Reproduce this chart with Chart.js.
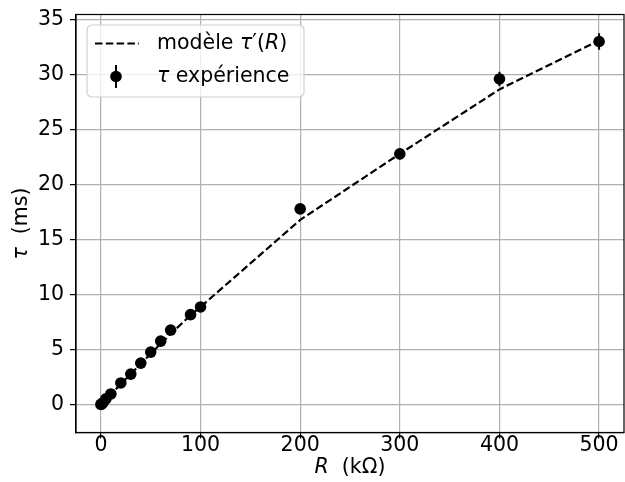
<!DOCTYPE html>
<html>
<head>
<meta charset="utf-8">
<script src="https://cdn.jsdelivr.net/npm/chart.js@4.4.1/dist/chart.umd.min.js"></script>
<style>
  html, body { margin: 0; padding: 0; background: #fff; }
  #wrap { width: 625px; height: 482px; position: relative; }
</style>
</head>
<body>
<div id="wrap"><canvas id="c" width="625" height="482"></canvas></div>
<script>
// ---- data ----
const R = [0, 1, 2, 5, 10, 20, 30, 40, 50, 60, 70, 90, 100, 200, 300, 400, 500];
const tauExp = [0.05, 0.1, 0.2, 0.55, 1.0, 2.0, 2.8, 3.8, 4.8, 5.8, 6.8, 8.2, 8.9, 17.8, 22.8, 29.6, 33.0];
const tauErr = [0.05, 0.05, 0.05, 0.05, 0.1, 0.1, 0.1, 0.15, 0.15, 0.15, 0.2, 0.2, 0.2, 0.4, 0.5, 0.65, 0.75];
const modelR = [0, 10, 20, 30, 40, 50, 60, 70, 90, 100, 200, 300, 400, 500];
const tauModel = [0, 0.95, 1.9, 2.8, 3.75, 4.65, 5.55, 6.45, 8.15, 8.9, 16.8, 22.8, 28.65, 33.1];
const xTicks = [0, 100, 200, 300, 400, 500];
const yTicks = [0, 5, 10, 15, 20, 25, 30, 35];
const labelModel = [['modèle ', false], ['τ', true], ['′(', false], ['R', true], [')', false]];
const labelExp = [['τ', true], [' expérience', false]];
const xTitle = [['R', true], ['  (kΩ)', false]];
const yTitle = [['τ', true], ['  (ms)', false]];

const FONT = '"DejaVu Sans", sans-serif';
const FS = 20.5;

function richWidth(ctx, parts) {
  let w = 0;
  for (const [t, it] of parts) {
    ctx.font = (it ? 'italic ' : '') + FS + 'px ' + FONT;
    w += ctx.measureText(t).width;
  }
  return w;
}
function drawRich(ctx, x, y, parts, align) {
  const w = richWidth(ctx, parts);
  let cx = align === 'center' ? x - w / 2 : x;
  ctx.textAlign = 'left';
  ctx.textBaseline = 'middle';
  ctx.fillStyle = '#000';
  for (const [t, it] of parts) {
    ctx.font = (it ? 'italic ' : '') + FS + 'px ' + FONT;
    ctx.fillText(t, cx, y);
    cx += ctx.measureText(t).width;
  }
}

const extras = {
  id: 'extras',
  beforeDatasetDraw(chart, args) {
    if (args.index !== 1) return;
    const ctx = chart.ctx, xs = chart.scales.x, ys = chart.scales.y;
    ctx.save();
    ctx.strokeStyle = '#000';
    ctx.lineWidth = 2;
    for (let i = 0; i < R.length; i++) {
      const px = xs.getPixelForValue(R[i]);
      ctx.beginPath();
      ctx.moveTo(px, ys.getPixelForValue(tauExp[i] - tauErr[i]));
      ctx.lineTo(px, ys.getPixelForValue(tauExp[i] + tauErr[i]));
      ctx.stroke();
    }
    ctx.restore();
  },
  afterDraw(chart) {
    const ctx = chart.ctx, a = chart.chartArea;
    ctx.save();
    // spines
    ctx.strokeStyle = '#000';
    ctx.lineWidth = 1.2;
    ctx.strokeRect(a.left, a.top, a.right - a.left, a.bottom - a.top);
    // axis titles
    drawRich(ctx, (a.left + a.right) / 2, 468, xTitle, 'center');
    ctx.save();
    ctx.translate(22, (a.top + a.bottom) / 2);
    ctx.rotate(-Math.PI / 2);
    drawRich(ctx, 0, 0, yTitle, 'center');
    ctx.restore();
    // legend
    const lx = 87, ly = 25, lw = 217, lh = 72, r = 5;
    ctx.beginPath();
    ctx.moveTo(lx + r, ly);
    ctx.arcTo(lx + lw, ly, lx + lw, ly + lh, r);
    ctx.arcTo(lx + lw, ly + lh, lx, ly + lh, r);
    ctx.arcTo(lx, ly + lh, lx, ly, r);
    ctx.arcTo(lx, ly, lx + lw, ly, r);
    ctx.closePath();
    ctx.fillStyle = 'rgba(255,255,255,0.8)';
    ctx.fill();
    ctx.strokeStyle = '#d0d0d0';
    ctx.lineWidth = 1.2;
    ctx.stroke();
    // row 1: dashed line
    ctx.strokeStyle = '#000';
    ctx.lineWidth = 2.2;
    ctx.setLineDash([7.5, 3.3]);
    ctx.beginPath();
    ctx.moveTo(95, 43.5);
    ctx.lineTo(139, 43.5);
    ctx.stroke();
    ctx.setLineDash([]);
    drawRich(ctx, 157, 43.5, labelModel, 'left');
    // row 2: errorbar marker
    ctx.lineWidth = 2;
    ctx.beginPath();
    ctx.moveTo(116, 65);
    ctx.lineTo(116, 88);
    ctx.stroke();
    ctx.beginPath();
    ctx.arc(116, 76.5, 5.8, 0, Math.PI * 2);
    ctx.fillStyle = '#000';
    ctx.fill();
    drawRich(ctx, 157, 76.5, labelExp, 'left');
    ctx.restore();
  }
};

new Chart(document.getElementById('c'), {
  type: 'scatter',
  data: {
    datasets: [
      {
        label: 'modèle τ′(R)',
        type: 'line',
        data: modelR.map((r, i) => ({ x: r, y: tauModel[i] })),
        borderColor: '#000',
        borderWidth: 2.2,
        borderDash: [7.5, 3.3],
        pointRadius: 0,
        fill: false,
        tension: 0,
        order: 1
      },
      {
        label: 'τ expérience',
        data: R.map((r, i) => ({ x: r, y: tauExp[i] })),
        backgroundColor: '#000',
        borderColor: '#000',
        pointRadius: 5.8,
        pointHoverRadius: 5.8,
        borderWidth: 0,
        order: 0
      }
    ]
  },
  options: {
    responsive: false,
    animation: false,
    events: [],
    layout: { autoPadding: false, padding: { left: 0, right: 1, top: 14.5, bottom: 0 } },
    plugins: { legend: { display: false }, tooltip: { enabled: false } },
    scales: {
      x: {
        type: 'linear',
        min: -25, max: 525,
        afterBuildTicks: s => { s.ticks = xTicks.map(v => ({ value: v })); },
        afterFit: s => { s.height = 49.5; s.paddingLeft = 0; s.paddingRight = 0; },
        grid: { color: '#b0b0b0', lineWidth: 1.2, tickLength: 6, tickColor: '#000', tickWidth: 1.2 },
        border: { display: true, color: '#000', width: 1.2 },
        ticks: { color: '#000', font: { family: FONT, size: FS }, padding: -5, maxRotation: 0 }
      },
      y: {
        type: 'linear',
        min: -2.5, max: 35.45,
        afterBuildTicks: s => { s.ticks = yTicks.map(v => ({ value: v })); },
        afterFit: s => { s.width = 76; s.paddingTop = 0; s.paddingBottom = 0; },
        grid: { color: '#b0b0b0', lineWidth: 1.2, tickLength: 6, tickColor: '#000', tickWidth: 1.2 },
        border: { display: true, color: '#000', width: 1.2 },
        ticks: { color: '#000', font: { family: FONT, size: FS }, padding: 6 }
      }
    }
  },
  plugins: [extras]
});
</script>
</body>
</html>
